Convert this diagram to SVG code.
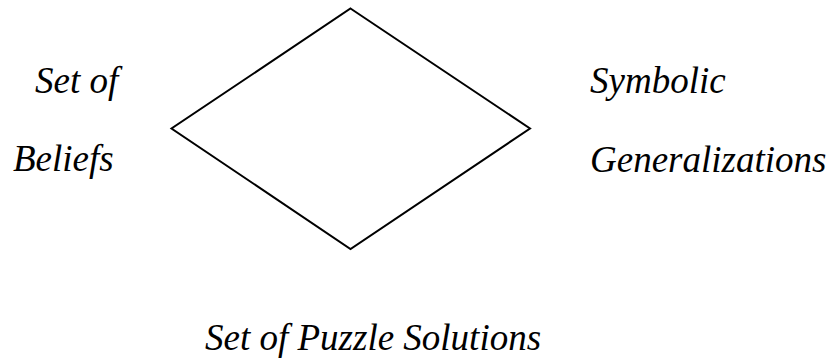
<svg xmlns="http://www.w3.org/2000/svg" width="831" height="363" viewBox="0 0 831 363">
<style>
.lbl{font-family:'Liberation Serif','Times New Roman',serif;font-style:italic;font-size:37px;fill:#000}
.shape{fill:#fff;stroke:#000;stroke-width:2}
</style>
<rect width="831" height="363" fill="#fff"/>
<g id="diamond"><polygon class="shape" points="350.5,8.5 530,128.5 350.5,249 171.5,128.5"/></g>
<g id="connectors"></g>
<g id="set-of-beliefs"><text class="lbl" x="35" y="93">Set of</text><text class="lbl" x="13" y="171">Beliefs</text></g>
<g id="symbolic-generalizations"><text class="lbl" x="590" y="93">Symbolic</text><text class="lbl" x="590" y="171.5">Generalizations</text></g>
<g id="puzzle-solutions"><text class="lbl" x="205" y="350">Set of Puzzle Solutions</text></g>
</svg>
